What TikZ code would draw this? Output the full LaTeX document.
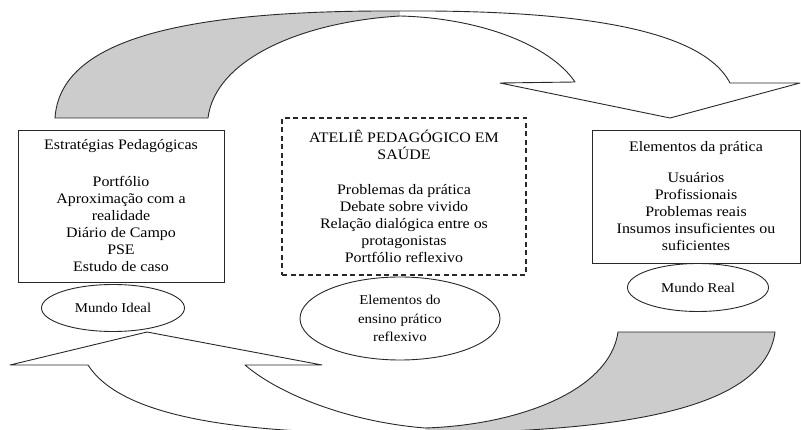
\documentclass[tikz,border=0pt]{standalone}
\usepackage{fontspec}
\setmainfont{Liberation Serif}[FakeStretch=1.1]
\usetikzlibrary{shapes.geometric}
\definecolor{ribbon}{RGB}{204,204,204}
\definecolor{ink}{RGB}{40,40,40}
\begin{document}
\begin{tikzpicture}[x=1pt,y=-1pt,
  box/.style={draw=ink, line width=0.9pt, rectangle, inner sep=0pt, align=center, font=\fontsize{14.5}{17}\selectfont},
  dbox/.style={box, dash pattern=on 5pt off 3.5pt, line width=1.3pt},
  oval/.style={draw=ink, line width=0.9pt, ellipse, inner sep=0pt, align=center, font=\fontsize{13.5}{18.5}\selectfont},
  ribbonline/.style={draw=ink, line width=0.9pt, line join=round}]
\useasboundingbox (0,0) rectangle (801,430);
\begin{scope}
\clip (0,0) rectangle (801,430);
% top curved arrow: back (grey) part
\fill[ribbon] (55,118) .. controls (60,40) and (180,10) .. (400,11) -- (400,16) .. controls (300,22) and (215,60) .. (208,118) -- cycle;
\draw[ribbonline] (400,11) .. controls (180,10) and (60,40) .. (55,118) -- (208,118) .. controls (215,60) and (300,22) .. (400,16);
% top curved arrow: front (white) part with head
\filldraw[ribbonline, fill=white] (400,11) .. controls (560,10) and (700,25) .. (730,83) -- (800,83) -- (670,118) -- (500,83) -- (575,82) .. controls (550,45) and (480,18) .. (400,16);
% bottom curved arrow: back (grey) part
\filldraw[ribbonline, fill=ribbon] (425,428) .. controls (520,425) and (610,390) .. (618,332) -- (775,332) .. controls (765,410) and (620,432) .. (425,433);
% bottom curved arrow: front (white) part with head
\filldraw[ribbonline, fill=white] (425,433) .. controls (230,436) and (120,415) .. (88,365) -- (10,365) -- (147,332) -- (322,365) -- (245,365) .. controls (280,395) and (350,422) .. (425,428);
\end{scope}
% boxes
\node[box, minimum width=206pt, minimum height=152pt] (strat) at (121,206)
  {Estratégias Pedagógicas\\[20pt]Portfólio\\Aproximação com a\\realidade\\Diário de Campo\\PSE\\Estudo de caso};
\node[dbox, minimum width=244pt, minimum height=157pt] (atel) at (404,196.5)
  {ATELIÊ PEDAGÓGICO EM\\SAÚDE\\[18pt]Problemas da prática\\Debate sobre vivido\\Relação dialógica entre os\\protagonistas\\Portfólio reflexivo};
\node[box, minimum width=208pt, minimum height=133pt] (elem) at (696,196.5)
  {Elementos da prática\\[14pt]Usuários\\Profissionais\\Problemas reais\\Insumos insuficientes ou\\suficientes};
% ellipses
\node[oval, minimum width=143pt, minimum height=47pt] (ideal) at (113,308) {Mundo Ideal};
\node[oval, minimum width=141pt, minimum height=48pt] (real) at (698,287.5) {Mundo Real};
\node[oval, minimum width=200pt, minimum height=83pt] (refl) at (400,318.5) {Elementos do\\ensino prático\\reflexivo};
\end{tikzpicture}
\end{document}
